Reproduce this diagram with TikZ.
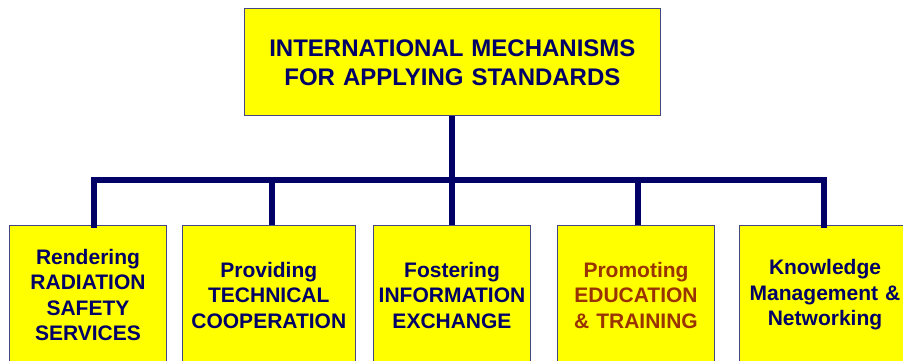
\documentclass[tikz,border=0pt]{standalone}
\usepackage{fontspec}
\setmainfont{Liberation Sans}
\definecolor{navy}{RGB}{0,0,102}
\definecolor{boxyellow}{RGB}{255,255,0}
\definecolor{edgeblue}{RGB}{70,70,130}
\definecolor{brownred}{RGB}{153,51,0}
\tikzset{
  mainbox/.style={draw=edgeblue, line width=1pt, fill=boxyellow, inner sep=0pt,
    text=navy, align=center, font=\bfseries\fontsize{24}{29}\selectfont},
  subbox/.style={draw=edgeblue, line width=1pt, fill=boxyellow, inner sep=0pt,
    text=navy, align=center, minimum height=140pt, font=\bfseries\fontsize{21}{25.5}\selectfont},
  conn/.style={draw=navy, line width=6pt, line join=miter, line cap=rect}
}
\begin{document}
\begin{tikzpicture}[x=1pt,y=-1pt]
\useasboundingbox (0,0) rectangle (903,361);
\clip (0,0) rectangle (903,361);
\fill[white] (0,0) rectangle (903,361);
\node[mainbox, minimum width=416.7pt, minimum height=106.7pt, text width=410pt] (top) at (452.4,62.3)
  {INTERNATIONAL MECHANISMS\\FOR APPLYING STANDARDS};
\node[subbox, minimum width=157.4pt, text width=155pt] (b1) at (88,295)
  {Rendering\\RADIATION\\SAFETY\\SERVICES};
\node[subbox, minimum width=173pt, text width=170pt] (b2) at (268.8,295)
  {Providing\\TECHNICAL\\COOPERATION};
\node[subbox, minimum width=157.4pt, text width=155pt] (b3) at (452,295)
  {Fostering\\INFORMATION\\EXCHANGE};
\node[subbox, minimum width=157.4pt, text width=155pt, text=brownred] (b4) at (636,295)
  {Promoting\\EDUCATION\\\&~TRAINING};
\node[subbox, minimum width=171pt, text width=168pt] (b5) at (825,295)
  {Knowledge\\Management \&\\Networking};
\coordinate (busL) at (93.5,180);
\coordinate (busR) at (824,180);
\draw[conn] ([xshift=5.5pt]b1.north) -- ([xshift=5.5pt]b1.north |- busL) -- (busR) -- (b5.north -| busR);
\draw[conn, line cap=butt] (top.south) -- (top.south |- b3.north);
\draw[conn, line cap=butt] ([xshift=3.2pt]b2.north) -- ([xshift=3.2pt]b2.north |- busL);
\draw[conn, line cap=butt] ([xshift=1.7pt]b4.north) -- ([xshift=1.7pt]b4.north |- busL);
\end{tikzpicture}
\end{document}
